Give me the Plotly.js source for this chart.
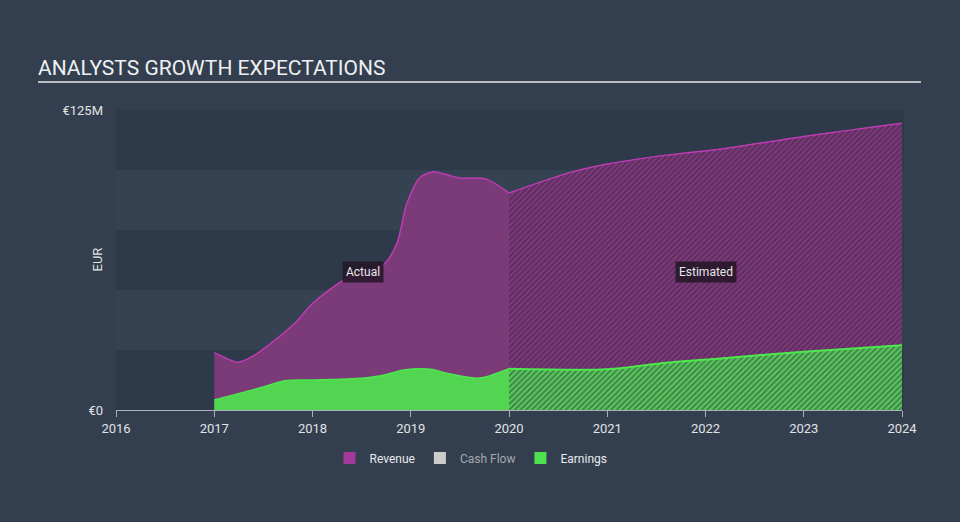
<!DOCTYPE html>
<html>
<head>
<meta charset="utf-8">
<script src="https://cdn.plot.ly/plotly-3.0.1.min.js"></script>
<style>
html,body{margin:0;padding:0;background:#333f4f;}
#chart{width:960px;height:522px;}
</style>
</head>
<body>
<div id="chart"></div>
<script>
// Actual revenue (EUR millions), x in decimal years
const revActualX = [2017.0, 2017.13, 2017.24, 2017.41, 2017.66, 2017.84, 2018.0, 2018.35, 2018.72, 2018.86, 2018.96, 2019.09, 2019.23, 2019.37, 2019.5, 2019.77, 2020.0];
const revActualY = [23.9, 21.4, 19.9, 22.9, 30.5, 37.0, 44.4, 54.9, 60.4, 69.6, 86.0, 96.7, 99.3, 98.0, 96.7, 96.2, 90.4];
// Estimated revenue
const revEstX = [2020.0, 2020.6, 2021.0, 2021.6, 2022.2, 2023.0, 2024.0];
const revEstY = [90.4, 98.7, 102.5, 106.2, 109.0, 114.0, 119.5];
// Actual earnings
const earnActualX = [2017.0, 2017.5, 2017.72, 2018.0, 2018.4, 2018.7, 2018.93, 2019.2, 2019.4, 2019.7, 2020.0];
const earnActualY = [4.2, 9.6, 12.2, 12.5, 13.0, 14.3, 16.7, 17.0, 15.0, 13.3, 17.2];
// Estimated earnings
const earnEstX = [2020.0, 2021.0, 2021.6, 2022.15, 2023.0, 2024.0];
const earnEstY = [17.2, 17.0, 19.7, 21.5, 24.3, 27.0];
// Axis ticks
const xTicks = [2016, 2017, 2018, 2019, 2020, 2021, 2022, 2023, 2024];
const xTickText = ['2016', '2017', '2018', '2019', '2020', '2021', '2022', '2023', '2024'];
const yTicks = [0, 125];
const yTickText = ['€0', '€125M'];
const legendNames = ['Revenue', 'Cash Flow', 'Earnings'];

const revLine = '#bd3cb2';
const revFill = '#7b3a78';
const earnLine = '#4ee84e';
const earnFill = '#52d652';

const traces = [
  {x: revActualX, y: revActualY, type: 'scatter', mode: 'lines', fill: 'tozeroy',
   line: {color: revLine, width: 1.5, shape: 'spline', smoothing: 0.8}, fillcolor: revFill,
   showlegend: false, hoverinfo: 'skip'},
  {x: revEstX, y: revEstY, type: 'scatter', mode: 'lines', fill: 'tozeroy',
   line: {color: revLine, width: 1.5, shape: 'spline', smoothing: 0.8},
   fillpattern: {shape: '/', bgcolor: '#5a2e5d', fgcolor: '#80397c', size: 4, solidity: 0.5},
   showlegend: false, hoverinfo: 'skip'},
  {x: earnActualX, y: earnActualY, type: 'scatter', mode: 'lines', fill: 'tozeroy',
   line: {color: earnLine, width: 1.5, shape: 'spline', smoothing: 0.8}, fillcolor: earnFill,
   showlegend: false, hoverinfo: 'skip'},
  {x: earnEstX, y: earnEstY, type: 'scatter', mode: 'lines', fill: 'tozeroy',
   line: {color: earnLine, width: 2, shape: 'spline', smoothing: 0.8},
   fillpattern: {shape: '/', bgcolor: '#3e844a', fgcolor: '#5ccb5c', size: 4, solidity: 0.5},
   showlegend: false, hoverinfo: 'skip'},
  // legend entries
  {x: [null], y: [null], type: 'bar', name: legendNames[0], marker: {color: '#a23a9c'}, showlegend: true},
  {x: [null], y: [null], type: 'bar', name: '<span style="color:#a3a8ae">' + legendNames[1] + '</span>', marker: {color: '#cccccc'}, showlegend: true},
  {x: [null], y: [null], type: 'bar', name: legendNames[2], marker: {color: '#4fe04f'}, showlegend: true}
];

const pxX = px => (px - 116) / 786;
const pxY = py => (410 - py) / 300;

const bandColor = '#2e3a4a';
const shapes = [
  {type: 'rect', xref: 'paper', yref: 'y', x0: 0, x1: 1.002, y0: 0, y1: 25, fillcolor: bandColor, line: {width: 0}, layer: 'below'},
  {type: 'rect', xref: 'paper', yref: 'y', x0: 0, x1: 1.002, y0: 50, y1: 75, fillcolor: bandColor, line: {width: 0}, layer: 'below'},
  {type: 'rect', xref: 'paper', yref: 'y', x0: 0, x1: 1.002, y0: 100, y1: 125, fillcolor: bandColor, line: {width: 0}, layer: 'below'},
  {type: 'line', xref: 'paper', yref: 'paper', x0: pxX(38), x1: pxX(921), y0: pxY(82), y1: pxY(82), line: {color: '#b9bec3', width: 2}}
];

const layout = {
  width: 960, height: 522,
  paper_bgcolor: '#333f4f',
  plot_bgcolor: '#344252',
  font: {family: 'Roboto, sans-serif', color: '#e0e3e6', size: 13},
  margin: {l: 116, r: 58, t: 110, b: 112, pad: 0},
  title: {text: 'ANALYSTS GROWTH EXPECTATIONS', xref: 'container', yref: 'container',
          x: 38 / 960, xanchor: 'left', y: 1 - 68 / 522, yanchor: 'middle',
          font: {family: 'Roboto, sans-serif', size: 21, color: '#eef0f2'}},
  xaxis: {range: [2016, 2024], tickvals: xTicks, ticktext: xTickText, showgrid: false, zeroline: false,
          showline: true, linecolor: '#a9b0b8', linewidth: 1, ticks: 'outside', ticklen: 6, tickcolor: '#a9b0b8',
          tickfont: {size: 13, color: '#e0e3e6'}, fixedrange: true},
  yaxis: {range: [0, 125], tickvals: yTicks, ticktext: yTickText, showgrid: false, zeroline: false,
          showline: false, ticks: '', ticklabelstandoff: 12, tickfont: {size: 13, color: '#e0e3e6'}, fixedrange: true},
  shapes: shapes,
  annotations: [
    {xref: 'paper', yref: 'paper', x: pxX(87), y: pxY(260), text: 'EUR', textangle: -90, showarrow: false,
     font: {size: 13, color: '#e0e3e6'}},
    {xref: 'x', yref: 'y', x: 2018.51, y: 57.5, text: 'Actual', showarrow: false,
     bgcolor: 'rgba(35,22,38,0.85)', borderpad: 3, font: {size: 12, color: '#e8e8ea'}},
    {xref: 'x', yref: 'y', x: 2022.0, y: 57.5, text: 'Estimated', showarrow: false,
     bgcolor: 'rgba(35,22,38,0.85)', borderpad: 3, font: {size: 12, color: '#e8e8ea'}}
  ],
  legend: {orientation: 'h', xref: 'paper', yref: 'paper', x: pxX(471), xanchor: 'center', y: pxY(458), yanchor: 'middle',
           font: {size: 12, color: '#e8eaec'}, bgcolor: 'rgba(0,0,0,0)', itemclick: false, itemdoubleclick: false},
  showlegend: true,
  hovermode: false
};

Plotly.newPlot('chart', traces, layout, {displayModeBar: false, staticPlot: true});
</script>
</body>
</html>
